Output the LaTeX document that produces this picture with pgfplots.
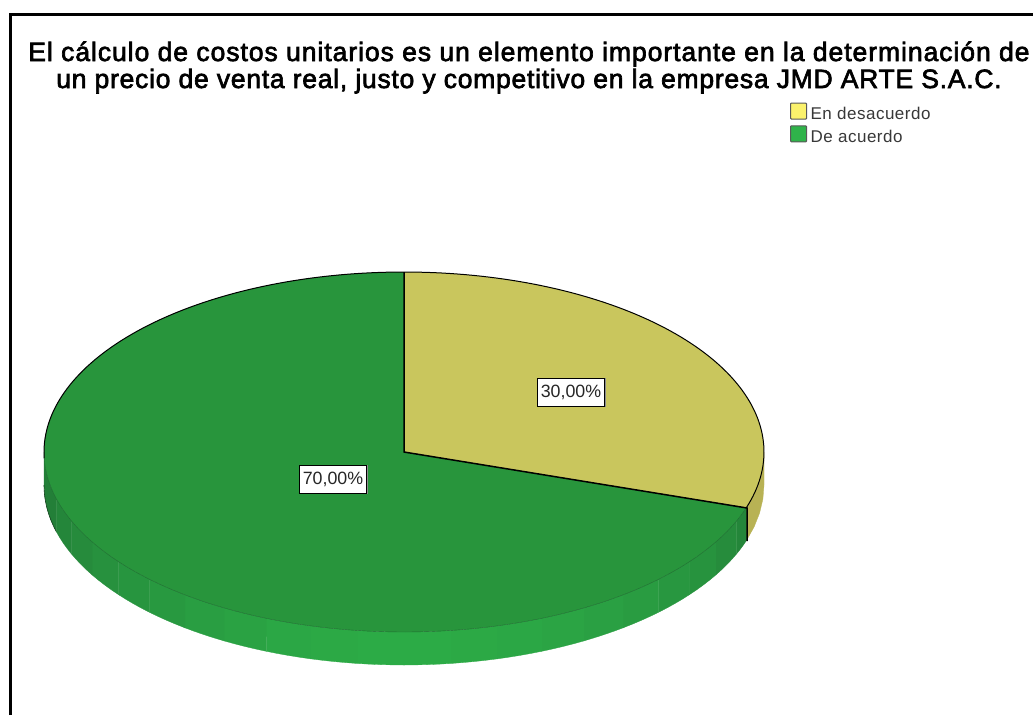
\documentclass[border=0pt]{standalone}
\usepackage{pgfplots}
\usepackage{pgfplotstable}
\usepackage{fontspec}
\pgfplotsset{compat=1.18}
\setmainfont{Liberation Sans}
\newfontfamily\titlefontA[FakeBold=2.5,LetterSpace=3.6]{Liberation Sans}
\newfontfamily\titlefontB[FakeBold=2.5,LetterSpace=2.8]{Liberation Sans}
\newfontfamily\keyfont[LetterSpace=3]{Liberation Sans}

\definecolor{faceYellow}{HTML}{C9C65D}
\definecolor{faceGreen}{HTML}{28953C}
\definecolor{wallYellow}{HTML}{B8B254}
\definecolor{wallDark}{HTML}{237F38}
\definecolor{wallBright}{HTML}{2CAB46}
\definecolor{keyYellow}{HTML}{FBF26C}
\definecolor{keyGreen}{HTML}{2FB34A}

% Shares of the two answers, in per cent
\pgfplotstableread{
share
30
70
}\shares

% One slice of the pie's rim: along the top ellipse, back along the bottom one
\newcommand{\rimband}[3]{%
  \addplot[forget plot, fill=#3, draw=#3, line width=0.3pt, variable=\s,
    samples at={0,0.25,0.5,0.75,1,1.0001,1.25,1.5,1.75,2}]
    ({404+360*cos(rimangle(\s,#1,#2))}, {452+180*sin(rimangle(\s,#1,#2))+(\s>1 ? 33 : 0)}) -- cycle;%
}

\begin{document}
\begin{tikzpicture}
\pgfplotstablegetelem{0}{share}\of\shares
\pgfmathsetmacro{\cut}{3.6*\pgfplotsretval-90}
\begin{axis}[
  scale only axis, width=1033pt, height=715pt,
  xmin=0, xmax=1033, ymin=0, ymax=715, y dir=reverse,
  hide axis,
  declare function={rimangle(\s,\a,\b)=(\s>1 ? \b-(\b-\a)*(\s-1) : \a+(\b-\a)*\s);},
  legend style={draw=none, fill=none, at={(axis cs:790,102.5)}, anchor=north west,
    inner sep=0pt, outer sep=0pt, font=\keyfont\fontsize{17}{18}\selectfont\color{black!78},
    row sep=3.3pt,
    nodes={inner xsep=3.5pt, inner ysep=1pt}},
  legend cell align=left,
  legend image code/.code={
    \draw[#1, draw=black!65, line width=1.1pt, rounded corners=0.8pt]
      (-1pt,-5pt) rectangle (15pt,11pt);},
]
% Page background and the frame's two visible sides
\addplot[forget plot, fill=white, draw=none] coordinates {(0,0) (1033,0) (1033,715) (0,715)} -- cycle;
\addplot[forget plot, black, line width=2.6pt] coordinates {(10.3,715) (10.3,14.7) (1033,14.7)};

% Rim of the disc, yellow then green in bands of changing brightness
\rimband{0}{\cut}{wallYellow}
\rimband{\cut}{22.5}{wallDark!85!wallBright}
\rimband{22.5}{30}{wallDark!70!wallBright}
\rimband{30}{37.5}{wallDark!55!wallBright}
\rimband{37.5}{45}{wallDark!45!wallBright}
\rimband{45}{52.5}{wallDark!35!wallBright}
\rimband{52.5}{60}{wallDark!25!wallBright}
\rimband{60}{67.5}{wallDark!15!wallBright}
\rimband{67.5}{75}{wallDark!8!wallBright}
\rimband{75}{82.5}{wallDark!4!wallBright}
\rimband{82.5}{90}{wallBright}
\rimband{90}{97.5}{wallBright}
\rimband{97.5}{105}{wallDark!4!wallBright}
\rimband{105}{112.5}{wallDark!10!wallBright}
\rimband{112.5}{120}{wallDark!20!wallBright}
\rimband{120}{127.5}{wallDark!30!wallBright}
\rimband{127.5}{135}{wallDark!40!wallBright}
\rimband{135}{142.5}{wallDark!50!wallBright}
\rimband{142.5}{150}{wallDark!60!wallBright}
\rimband{150}{157.5}{wallDark!72!wallBright}
\rimband{157.5}{165}{wallDark!85!wallBright}
\rimband{165}{180}{wallDark}

% Top face of the disc: one sector per share
\addplot[forget plot, fill=faceYellow, draw=none, domain=-90:\cut, samples=90, variable=\t]
  ({404+360*cos(\t)}, {452+180*sin(\t)}) -- (axis cs:404,452) -- cycle;
\addplot[forget plot, fill=faceGreen, draw=none, domain=\cut:270, samples=180, variable=\t]
  ({404+360*cos(\t)}, {452+180*sin(\t)}) -- (axis cs:404,452) -- cycle;

% Outlines
\addplot[forget plot, wallDark!85!black, line width=0.4pt, domain=\cut:178, samples=100, variable=\t]
  ({404+360*cos(\t)}, {452+180*sin(\t)});
\addplot[forget plot, black, line width=1pt, domain=178:378, samples=160, variable=\t]
  ({404+360*cos(\t)}, {452+180*sin(\t)});
\addplot[forget plot, wallDark!50!black, line width=0.6pt, domain=180:165, samples=12, variable=\t]
  ({404+360*cos(\t)}, {485+180*sin(\t)});
\addplot[forget plot, black, line width=1.5pt] coordinates {(404,272) (404,452) (747,508) (747,541)};

\addlegendimage{fill=keyYellow}
\addlegendentry{En desacuerdo}
\addlegendimage{fill=keyGreen}
\addlegendentry{De acuerdo}

% Title
\node[anchor=base, font=\titlefontA\fontsize{26.5}{30}\selectfont] at (axis cs:529,61) {El cálculo de costos unitarios es un elemento importante en la determinación de};
\node[anchor=base, font=\titlefontB\fontsize{26.5}{30}\selectfont] at (axis cs:529,88) {un precio de venta real, justo y competitivo en la empresa JMD ARTE S.A.C.};

% Value labels
\node[fill=black!45, minimum width=68pt, minimum height=29pt, inner sep=0pt] at (axis cs:571.6,392.8) {};
\node[fill=white, draw=black, line width=0.9pt, minimum width=67pt, minimum height=28pt, inner sep=0pt, font=\fontsize{17.8}{20}\selectfont\color{black!85}] at (axis cs:571,392) {30,00\%};
\node[fill=black!45, minimum width=68pt, minimum height=29pt, inner sep=0pt] at (axis cs:333.6,479.8) {};
\node[fill=white, draw=black, line width=0.9pt, minimum width=67pt, minimum height=28pt, inner sep=0pt, font=\fontsize{17.8}{20}\selectfont\color{black!85}] at (axis cs:333,479) {70,00\%};
\end{axis}
\end{tikzpicture}
\end{document}
